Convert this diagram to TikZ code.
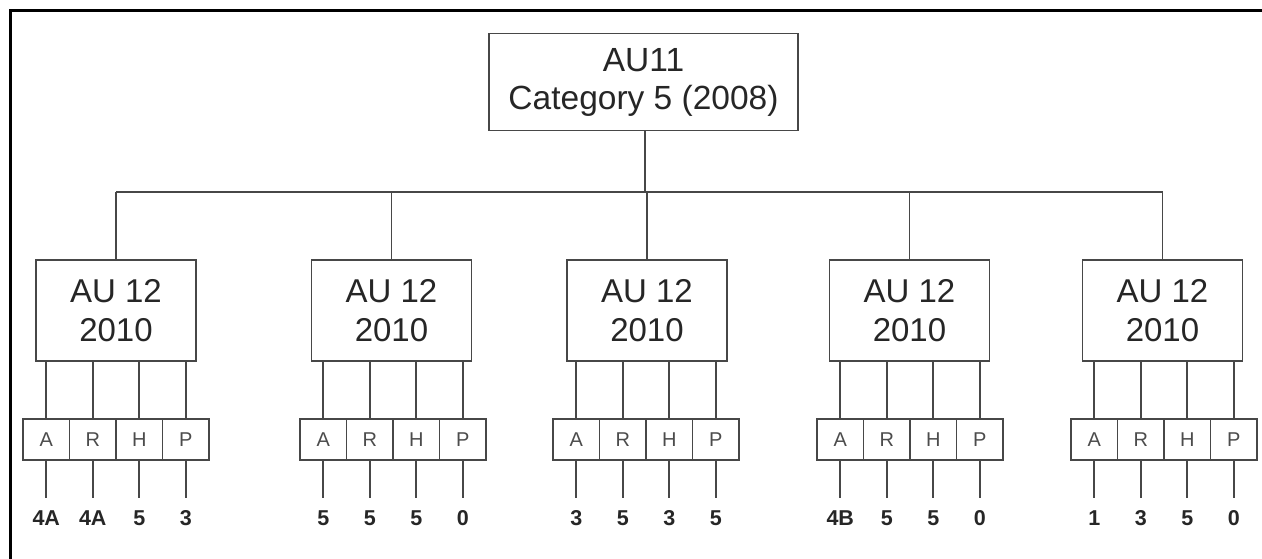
\documentclass[tikz,border=0pt]{standalone}
\usepackage{fontspec}
\setmainfont{Liberation Sans}
\begin{document}
\begin{tikzpicture}[x=1pt,y=-1pt,
  ln/.style={draw=black!72,line width=1.9pt},
  bigbox/.style={ln,rectangle,inner sep=0pt,outer sep=0pt,minimum width=160pt,minimum height=101pt,align=center,font=\fontsize{33}{39}\selectfont,text=black!85},
  topbox/.style={bigbox,minimum width=309pt,minimum height=97pt,font=\fontsize{33.5}{38}\selectfont},
  cellbox/.style={ln,rectangle,inner sep=0pt,outer sep=0pt,minimum width=46.5pt,minimum height=41pt,font=\fontsize{20}{20}\selectfont,text=black!70},
  lab/.style={inner sep=0pt,font=\fontsize{21.5}{21.5}\selectfont\bfseries,text=black!85},
  frame/.style={draw=black,line width=3pt}]
\useasboundingbox (0,0) rectangle (1262,559);
\draw[frame] (10,559) -- (10,11) -- (1262,11);
\node[topbox] (top) at (643.5,82) {AU11\\Category 5 (2008)};
\coordinate (bar) at (645,192);
\draw[ln] (top.south -| bar) -- (bar);
\foreach \i/\cx/\rx/\la/\lb/\lc/\ld in {1/116/116/4A/4A/5/3,2/391.5/393/5/5/5/0,3/647/646/3/5/3/5,4/909.5/910/4B/5/5/0,5/1162.5/1164/1/3/5/0}{
  \node[bigbox] (b\i) at (\cx,310.5) {AU 12\\2010};
  \coordinate (j\i) at (\cx,192);
  \draw[ln] (j\i) -- (b\i.north);
  \foreach \j/\t/\l [count=\k] in {1/A/\la,2/R/\lb,3/H/\lc,4/P/\ld}{
    \node[cellbox] (c\i\j) at ({\rx+(\k-2.5)*46.5},439.5) {\t};
    \draw[ln] (b\i.south -| c\i\j) -- (c\i\j.north);
    \coordinate (e\i\j) at ({\rx+(\k-2.5)*46.5},498);
    \draw[ln] (c\i\j.south) -- (e\i\j);
    \node[lab] (l\i\j) at ({\rx+(\k-2.5)*46.5},518) {\l};
  }
}
\draw[ln] (j1) -- (j5);
\end{tikzpicture}
\end{document}
